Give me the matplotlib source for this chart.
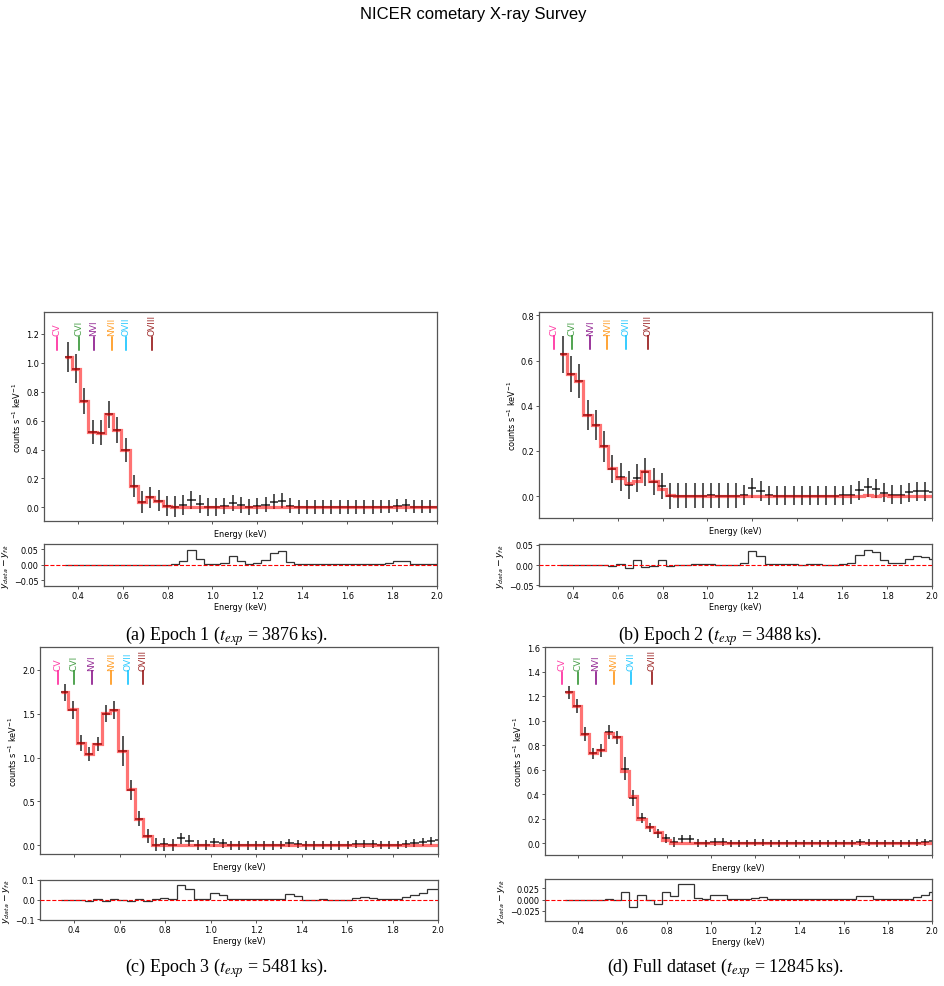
import numpy as np
import matplotlib
matplotlib.use("Agg")
import matplotlib.pyplot as plt

plt.rcParams['font.family'] = ['DejaVu Sans']
plt.rcParams['mathtext.fontset'] = 'dejavusans'

# ---------------- data ----------------
edges = [0.342, 0.375, 0.412, 0.448, 0.485, 0.522, 0.558, 0.595, 0.632, 0.668,
         0.705, 0.742, 0.778, 0.815, 0.852, 0.888, 0.925, 0.962, 0.998, 1.035,
         1.072, 1.108, 1.145, 1.182, 1.218, 1.255, 1.292, 1.328, 1.365, 1.402,
         1.438, 1.475, 1.512, 1.548, 1.585, 1.622, 1.658, 1.695, 1.732, 1.768,
         1.805, 1.842, 1.878, 1.915, 1.952, 1.988, 2.025]

y_a = [1.04, 0.96, 0.736, 0.52, 0.517, 0.644, 0.536, 0.398, 0.147, 0.037,
       0.068, 0.046, 0.011, 0.005, 0.014, 0.05, 0.023, 0.003, 0.003, 0.008,
       0.03, 0.014, 0.005, 0.006, 0.017, 0.04, 0.046, 0.012, 0.002, 0.002,
       0.003, 0.002, 0.003, 0.003, 0.002, 0.002, 0.002, 0.002, 0.002, 0.005,
       0.012, 0.014, 0.003, 0.003, 0.003, 0.004]
err_a = [0.105, 0.10, 0.092, 0.085, 0.087, 0.092, 0.09, 0.085, 0.077, 0.076,
         0.07, 0.072, 0.07, 0.07, 0.068, 0.063, 0.063, 0.06, 0.06, 0.055,
         0.055, 0.055, 0.055, 0.055, 0.052, 0.05, 0.05, 0.05, 0.048, 0.048,
         0.047, 0.047, 0.047, 0.047, 0.046, 0.046, 0.046, 0.046, 0.045, 0.045,
         0.045, 0.045, 0.045, 0.045, 0.045, 0.045]
res_a = [0, 0, 0, 0, 0, 0, 0, 0, 0, 0,
         0, 0, 0, 0.003, 0.013, 0.048, 0.02, 0.002, 0.002, 0.006,
         0.028, 0.013, 0.003, 0.005, 0.016, 0.037, 0.044, 0.01, 0.001, 0.001,
         0.002, 0.001, 0.002, 0.002, 0.001, 0.001, 0.001, 0.001, 0.001, 0.004,
         0.011, 0.013, 0.002, 0.002, 0.002, 0.003]

y_b = [0.628, 0.54, 0.51, 0.359, 0.315, 0.22, 0.122, 0.084, 0.049, 0.081,
       0.106, 0.063, 0.044, 0.002, 0.001, 0.001, 0.002, 0.002, 0.003, 0.001,
       0.001, 0.001, 0.005, 0.036, 0.022, 0.003, 0.002, 0.002, 0.002, 0.001,
       0.002, 0.002, 0.001, 0.001, 0.003, 0.006, 0.025, 0.04, 0.032, 0.015,
       0.006, 0.007, 0.018, 0.022, 0.022, 0.016]
err_b = [0.081, 0.081, 0.074, 0.066, 0.066, 0.068, 0.062, 0.062, 0.06, 0.062,
         0.062, 0.06, 0.058, 0.057, 0.055, 0.055, 0.055, 0.055, 0.055, 0.055,
         0.055, 0.055, 0.045, 0.045, 0.045, 0.042, 0.042, 0.042, 0.042, 0.042,
         0.042, 0.042, 0.042, 0.042, 0.042, 0.042, 0.042, 0.042, 0.042, 0.042,
         0.042, 0.042, 0.042, 0.042, 0.042, 0.042]
res_b = [0, 0, 0, 0, 0, 0, -0.002, 0.003, -0.007, 0.012,
         -0.004, -0.003, 0.013, -0.003, 0.001, 0.001, 0.002, 0.002, 0.003, 0.001,
         0.001, 0.001, 0.004, 0.034, 0.022, 0.003, 0.002, 0.002, 0.002, 0.001,
         0.002, 0.002, 0.001, 0.001, 0.003, 0.005, 0.024, 0.037, 0.032, 0.012,
         0.004, 0.006, 0.016, 0.022, 0.021, 0.015]

y_c = [1.742, 1.545, 1.165, 1.04, 1.154, 1.5, 1.545, 1.074, 0.634, 0.304,
       0.102, 0.005, 0.01, 0.003, 0.08, 0.053, 0.003, 0.003, 0.034, 0.023,
       0.002, 0.002, 0.002, 0.002, 0.002, 0.002, 0.003, 0.027, 0.018, 0.0,
       0.0, 0.003, 0.0, 0.0, 0.001, 0.012, 0.017, 0.01, 0.002, 0.002,
       0.003, 0.016, 0.023, 0.034, 0.053, 0.056]
err_c = [0.1, 0.105, 0.09, 0.083, 0.083, 0.1, 0.1, 0.17, 0.115, 0.085,
         0.08, 0.075, 0.072, 0.07, 0.065, 0.062, 0.06, 0.058, 0.055, 0.053,
         0.05, 0.05, 0.05, 0.05, 0.05, 0.05, 0.048, 0.048, 0.048, 0.048,
         0.048, 0.048, 0.048, 0.048, 0.048, 0.048, 0.046, 0.046, 0.046, 0.046,
         0.046, 0.046, 0.046, 0.046, 0.046, 0.046]
res_c = [-0.002, -0.003, -0.002, -0.005, 0.005, -0.005, 0.002, 0.0, -0.005, 0.005,
         -0.008, 0.002, 0.008, 0.003, 0.075, 0.052, 0.003, 0.003, 0.035, 0.022,
         0.002, 0.002, 0.002, 0.002, 0.002, 0.002, 0.003, 0.027, 0.018, 0.0,
         0.0, 0.003, 0.0, 0.0, 0.001, 0.01, 0.015, 0.008, 0.002, 0.002,
         0.003, 0.015, 0.022, 0.033, 0.052, 0.055]

y_d = [1.234, 1.12, 0.89, 0.735, 0.759, 0.906, 0.865, 0.61, 0.369, 0.206,
       0.13, 0.081, 0.043, 0.011, 0.035, 0.035, 0.003, 0.001, 0.011, 0.011,
       0.002, 0.001, 0.001, 0.004, 0.005, 0.001, 0.001, 0.002, 0.002, 0.001,
       0.001, 0.001, 0.001, 0.001, 0.001, 0.001, 0.009, 0.007, 0.001, 0.001,
       0.001, 0.001, 0.001, 0.005, 0.01, 0.018]
err_d = [0.054, 0.058, 0.057, 0.047, 0.054, 0.057, 0.054, 0.092, 0.066, 0.04,
         0.04, 0.04, 0.037, 0.038, 0.035, 0.035, 0.03, 0.03, 0.03, 0.03,
         0.028, 0.028, 0.028, 0.028, 0.028, 0.028, 0.028, 0.028, 0.028, 0.028,
         0.028, 0.028, 0.028, 0.028, 0.028, 0.028, 0.028, 0.028, 0.028, 0.028,
         0.028, 0.028, 0.028, 0.028, 0.028, 0.028]
res_d = [0, 0, 0, 0, 0, 0.001, -0.002, 0.016, -0.016, 0.01,
         -0.002, -0.009, 0.017, 0.008, 0.035, 0.035, 0.003, 0.001, 0.01, 0.011,
         0.002, 0.001, 0.001, 0.004, 0.005, 0.001, 0.001, 0.002, 0.002, 0.001,
         0.001, 0.001, 0.001, 0.001, 0.001, 0.001, 0.009, 0.007, 0.001, 0.001,
         0.001, 0.001, 0.001, 0.005, 0.01, 0.018]

line_names = ["CV", "CVI", "NVI", "NVII", "OVII", "OVIII"]
line_colors = ["deeppink", "forestgreen", "purple", "darkorange", "deepskyblue", "darkred"]
lines_a = [0.309, 0.404, 0.473, 0.553, 0.617, 0.733]
lines_b = [0.315, 0.397, 0.479, 0.554, 0.639, 0.737]
lines_c = [0.330, 0.399, 0.479, 0.564, 0.638, 0.704]
lines_d = [0.327, 0.400, 0.479, 0.562, 0.639, 0.736]

captions = [r"(a) Epoch 1 ($t_{exp}$ = 3876$\,$ks).",
            r"(b) Epoch 2 ($t_{exp}$ = 3488$\,$ks).",
            r"(c) Epoch 3 ($t_{exp}$ = 5481$\,$ks).",
            r"(d) Full dataset ($t_{exp}$ = 12845$\,$ks)."]

main_yticks = [[0.0, 0.2, 0.4, 0.6, 0.8, 1.0, 1.2],
               [0.0, 0.2, 0.4, 0.6, 0.8],
               [0.0, 0.5, 1.0, 1.5, 2.0],
               [0.0, 0.2, 0.4, 0.6, 0.8, 1.0, 1.2, 1.4, 1.6]]
main_ylims = [(-0.095, 1.352), (-0.097, 0.815), (-0.099, 2.26), (-0.095, 1.604)]
res_yticks = [[-0.05, 0.0, 0.05], [-0.05, 0.0, 0.05], [-0.1, 0.0, 0.1],
              [-0.025, 0.0, 0.025]]
res_ylims = [(-0.069, 0.067), (-0.052, 0.052), (-0.103, 0.098), (-0.048, 0.046)]
xticks = [0.4, 0.6, 0.8, 1.0, 1.2, 1.4, 1.6, 1.8, 2.0]

# ---------------- layout (pixels) ----------------
W, H = 945, 987
fig = plt.figure(figsize=(W / 100, H / 100), dpi=100)


def px_axes(left, right, top, bottom):
    return fig.add_axes([left / W, 1 - bottom / H, (right - left) / W, (bottom - top) / H])


panels = [
    dict(main=(44, 437, 313, 522), res=(44, 437, 545, 587), cap=(226, 641),
         y=y_a, err=err_a, res_v=res_a, lines=lines_a),
    dict(main=(539, 932, 313, 519), res=(539, 932, 545, 587), cap=(720, 641),
         y=y_b, err=err_b, res_v=res_b, lines=lines_b),
    dict(main=(40, 438, 648, 855), res=(40, 438, 881, 921), cap=(226, 973),
         y=y_c, err=err_c, res_v=res_c, lines=lines_c),
    dict(main=(545, 932, 648, 856), res=(545, 932, 880, 922), cap=(725, 973),
         y=y_d, err=err_d, res_v=res_d, lines=lines_d),
]

edges_arr = np.array(edges)
centers = 0.5 * (edges_arr[:-1] + edges_arr[1:])
halfw = 0.5 * np.diff(edges_arr)

fs = 5.9
spine_col = '#555555'


def style(ax):
    for s in ax.spines.values():
        s.set_color(spine_col)
        s.set_linewidth(0.9)
    ax.tick_params(labelsize=fs, length=2.2, width=0.7, pad=1.5, color=spine_col)


for i, p in enumerate(panels):
    y = np.array(p['y'])
    err = np.array(p['err'])
    res = np.array(p['res_v'])
    model = y - res

    ax = px_axes(*p['main'])
    ax.errorbar(centers, y, yerr=err, xerr=halfw, fmt='none', ecolor='k',
                elinewidth=1.1, alpha=0.85, zorder=2)
    ax.stairs(model, edges_arr, baseline=None, color='red', lw=2.3,
              alpha=0.55, zorder=3)
    ax.set_xlim(0.25, 2.0)
    ax.set_ylim(*main_ylims[i])
    ax.set_xticks(xticks)
    ax.set_xticklabels([])
    ax.set_yticks(main_yticks[i])
    ax.set_yticklabels([f"{t:.1f}" for t in main_yticks[i]])
    ax.set_xlabel("Energy (keV)", fontsize=fs, labelpad=2)
    ax.set_ylabel(r"counts s$^{-1}$ keV$^{-1}$", fontsize=fs, labelpad=2)
    style(ax)
    for name, col, e in zip(line_names, line_colors, p['lines']):
        ax.plot([e, e], [0.82, 0.882], color=col, lw=1.1,
                transform=ax.get_xaxis_transform(), zorder=4)
        ax.text(e, 0.89, name, color=col, alpha=0.8, rotation=90,
                ha='center', va='bottom', fontsize=6.6,
                transform=ax.get_xaxis_transform())

    rx = px_axes(*p['res'])
    rx.stairs(res, edges_arr, baseline=None, color='k', lw=0.9, alpha=0.8,
              zorder=2)
    rx.axhline(0, color='red', ls='--', lw=0.8, zorder=3)
    rx.set_xlim(0.25, 2.0)
    rx.set_ylim(*res_ylims[i])
    rx.set_xticks(xticks)
    rx.set_xticklabels([f"{t:.1f}" for t in xticks])
    rx.set_yticks(res_yticks[i])
    if i == 2:
        rx.set_yticklabels(["\u22120.1", "0.0", "0.1"])
    elif i == 3:
        rx.set_yticklabels(["\u22120.025", "0.000", "0.025"])
    else:
        rx.set_yticklabels(["\u22120.05", "0.00", "0.05"])
    rx.set_xlabel("Energy (keV)", fontsize=fs, labelpad=1)
    rx.set_ylabel(r"$y_{data} - y_{fit}$", fontsize=6.6, labelpad=2)
    style(rx)

    fig.text(p['cap'][0] / W, 1 - p['cap'][1] / H, captions[i],
             ha='center', va='baseline', fontsize=13,
             family=['Liberation Serif'], math_fontfamily='stix')

fig.text(473 / W, 1 - 19 / H, "NICER cometary X-ray Survey", ha='center',
         va='baseline', fontsize=12, family=['Liberation Sans'])

fig.savefig("out.png", dpi=100)
